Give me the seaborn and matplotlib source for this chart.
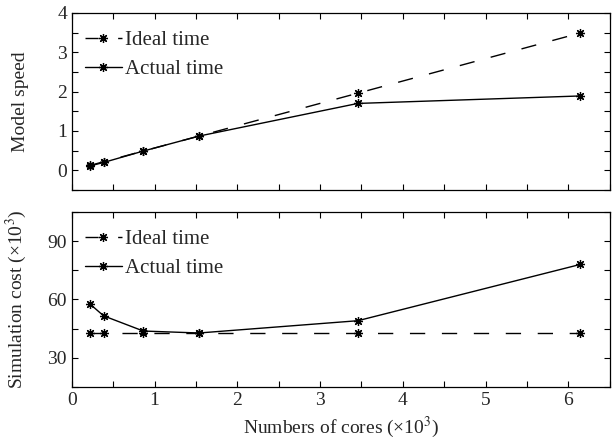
import matplotlib
matplotlib.use("Agg")
import matplotlib.pyplot as plt
from matplotlib.ticker import MultipleLocator
import seaborn as sns
import pandas as pd

cores = [0.216, 0.384, 0.864, 1.536, 3.456, 6.144]
speed_ideal = [0.123, 0.218, 0.49, 0.87, 1.96, 3.49]
speed_actual = [0.11, 0.20, 0.49, 0.87, 1.70, 1.89]
cost_ideal = [42.6, 42.6, 42.6, 42.6, 42.6, 42.6]
cost_actual = [57.8, 51.6, 43.8, 42.8, 49.1, 78.0]
series_names = ["Ideal time", "Actual time"]

sns.set_theme(style="ticks")
plt.rcParams['font.family'] = ['Liberation Serif', 'DejaVu Serif']
plt.rcParams['mathtext.fontset'] = 'stix'

fig = plt.figure(figsize=(6.14, 4.46), dpi=100)
ax1 = fig.add_axes([0.117, 0.574, 0.876, 0.397])
ax2 = fig.add_axes([0.117, 0.132, 0.876, 0.393])

def make_df(ideal, actual):
    return pd.DataFrame({
        "x": cores * 2,
        "y": list(ideal) + list(actual),
        "series": [series_names[0]] * len(cores) + [series_names[1]] * len(cores),
    })

tfs = 14
lfs = 14
star = (8, 2, 0)
for ax, ideal, actual in [(ax1, speed_ideal, speed_actual), (ax2, cost_ideal, cost_actual)]:
    df = make_df(ideal, actual)
    sns.lineplot(data=df, x="x", y="y", hue="series", style="series",
                 palette={series_names[0]: "black", series_names[1]: "black"},
                 dashes={series_names[0]: (11, 12), series_names[1]: ""},
                 markers={series_names[0]: star, series_names[1]: star},
                 markersize=6.5, markeredgewidth=0.9, markeredgecolor="black",
                 linewidth=1.0, ax=ax, legend=True)
    ax.set_xlim(0, 6.5)
    ax.xaxis.set_major_locator(MultipleLocator(1))
    ax.xaxis.set_minor_locator(MultipleLocator(0.5))
    ax.tick_params(which="both", direction="in", top=True, right=True,
                   labelsize=tfs, width=0.8, color="black")
    ax.tick_params(which="major", length=4)
    ax.tick_params(which="minor", length=4)
    for s in ax.spines.values():
        s.set_linewidth(0.9)
        s.set_color("black")
    leg = ax.legend(loc="upper left", frameon=False, fontsize=15,
                    handlelength=1.8, handletextpad=0.15, borderpad=0.3,
                    labelspacing=0.45, borderaxespad=0.55,
                    bbox_to_anchor=(-0.0093, 1.0))
    hl = leg.get_lines()
    hl[0].set_linestyle((0, (9.5, 14)))
    hl[1].set_linestyle("-")
    ax.set_xlabel("")

ax1.set_ylim(-0.5, 4)
ax1.yaxis.set_major_locator(MultipleLocator(1))
ax1.yaxis.set_minor_locator(MultipleLocator(0.5))
ax1.set_xticklabels([])
ax1.set_ylabel("Model speed", fontsize=lfs)

ax2.set_ylim(15, 105)
ax2.yaxis.set_major_locator(MultipleLocator(30))
ax2.yaxis.set_minor_locator(MultipleLocator(15))
ax2.set_ylabel("Simulation cost (×10$^3$)", fontsize=lfs)
ax2.set_xlabel("Numbers of cores (×10$^3$)", fontsize=lfs)

ax1.yaxis.set_label_coords(-0.08, 0.5)
ax2.yaxis.set_label_coords(-0.08, 0.5)

fig.savefig("out.png", dpi=100)
